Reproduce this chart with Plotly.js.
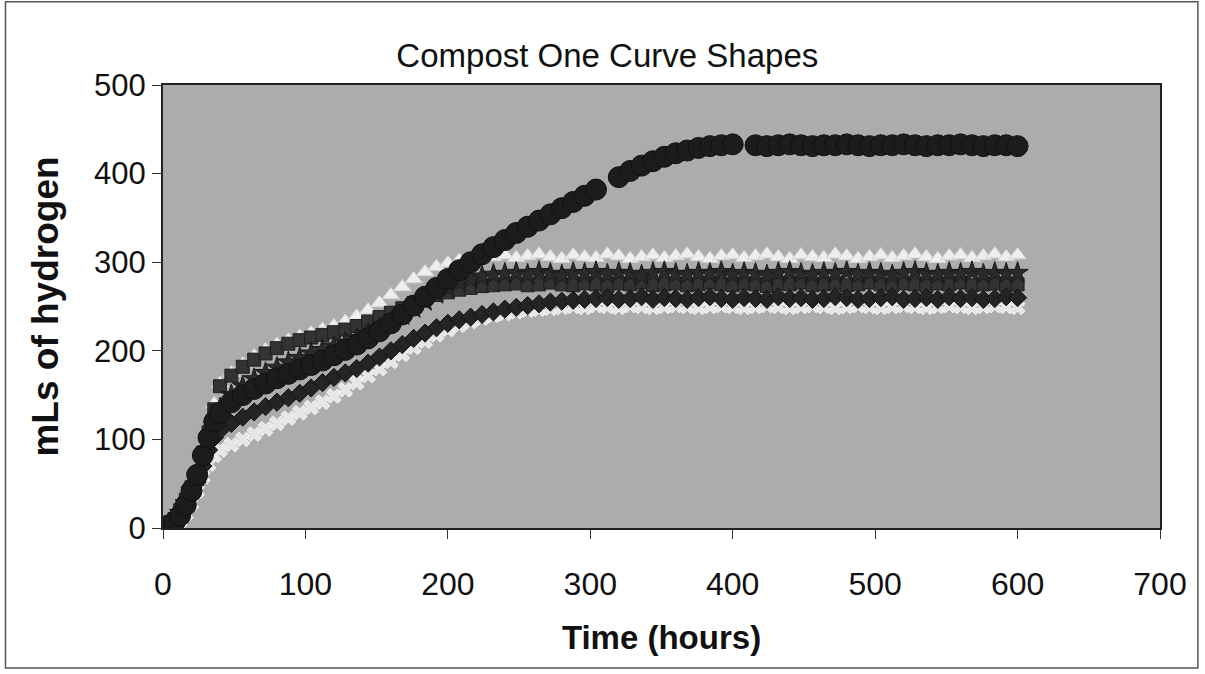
<!DOCTYPE html>
<html>
<head>
<meta charset="utf-8">
<script src="https://cdn.plot.ly/plotly-3.0.1.min.js"></script>
<style>
  html, body { margin: 0; padding: 0; background: #ffffff; }
  #chart { width: 1205px; height: 674px; }
</style>
</head>
<body>
<div id="chart"></div>
<script>
// Time (hours) shared by all series
const hours = [0,4,8,12,16,20,24,28,32,36,40,
  48,56,64,72,80,88,96,104,112,120,128,136,144,152,160,168,176,184,192,200,
  208,216,224,232,240,248,256,264,272,280,288,296,304,312,320,328,336,344,352,
  360,368,376,384,392,400,
  408,416,424,432,440,448,456,464,472,480,488,496,504,512,520,528,536,544,552,
  560,568,576,584,592,600];

// Light lower series (x markers)
const seriesD = [0,1,3,8,16,28,42,58,72,82,88,
  94,100,106,112,118,124,130,136,142,149,156,164,172,180,188,196,204,211,218,224,
  229,233,237,240,242,244,246,247,248,249,250,249,251,250,249,251,250,249,250,
  251,250,249,250,251,250,
  249,250,251,250,249,250,251,250,249,250,251,250,249,250,251,250,249,250,251,
  250,249,250,251,250,249];

// Light upper series (triangles)
const seriesC = [0,4,10,20,33,48,66,90,114,140,163,
  175,185,194,201,207,212,216,220,224,228,233,239,246,254,263,272,281,289,295,299,
  302,304,305,306,308,305,307,309,306,304,308,306,305,309,307,304,306,308,305,
  307,309,306,304,307,308,
  305,307,309,306,304,308,306,305,309,307,304,306,308,305,307,309,306,304,307,
  308,305,307,309,306,308];

// Dark squares series
const seriesB = [0,4,10,20,32,46,62,85,108,134,160,
  172,182,190,197,203,208,212,215,218,221,224,228,233,238,243,248,254,259,263,266,
  269,271,273,274,275,276,274,275,277,275,274,276,275,273,276,275,277,274,275,
  276,274,275,277,275,274,
  276,275,273,276,275,277,274,275,276,274,275,277,275,274,276,275,273,276,275,
  277,274,275,276,274,275];

// Dark stars series
const seriesE = [0,3,8,17,28,42,58,78,98,116,135,
  150,160,168,175,181,187,192,197,201,205,209,214,219,225,232,240,248,256,264,271,
  277,281,284,286,287,288,286,289,287,285,288,287,289,286,288,287,285,288,289,
  287,286,288,287,289,286,
  288,287,285,288,289,287,286,288,287,289,286,288,287,285,288,289,287,286,288,
  287,289,286,288,287,288];

// Dark diamonds series
const seriesA = [0,2,5,12,22,36,52,70,88,102,110,
  118,125,131,137,142,147,152,158,164,170,175,180,186,193,200,207,214,220,226,231,
  235,238,241,244,247,249,251,253,255,256,257,258,259,260,258,259,261,258,260,
  259,258,260,261,259,258,
  260,259,258,261,259,260,258,259,261,260,258,259,260,261,258,259,260,258,261,
  259,260,258,259,261,260];

// Large circles series (null = missing reading)
const seriesF = [0,3,6,14,26,42,60,82,102,120,130,
  142,150,157,163,169,174,179,184,189,195,201,207,214,222,231,241,251,261,271,281,
  291,300,309,317,325,333,340,347,354,361,368,375,382,null,396,403,409,414,419,
  423,426,429,431,432,433,
  null,432,431,432,433,432,431,432,432,433,432,431,432,432,433,432,431,432,432,
  433,432,431,432,432,431];

const xTicks = [0,100,200,300,400,500,600,700];
const yTicks = [0,100,200,300,400,500];

const seriesList = [
  {name: 'Series D', y: seriesD, symbol: 'x', size: 13, color: '#e6e6e6', line: '#f6f6f6'},
  {name: 'Series C', y: seriesC, symbol: 'triangle-up', size: 15, color: '#eeeeee', line: '#d4d4d4'},
  {name: 'Series B', y: seriesB, symbol: 'square', size: 13, color: '#333333', line: '#1e1e1e'},
  {name: 'Series E', y: seriesE, symbol: 'star', size: 16, color: '#2a2a2a', line: '#1a1a1a'},
  {name: 'Series A', y: seriesA, symbol: 'diamond', size: 14, color: '#242424', line: '#141414'},
  {name: 'Series F', y: seriesF, symbol: 'circle', size: 21, color: '#1c1c1c', line: '#111111'}
];

const traces = seriesList.map(s => ({
  type: 'scatter',
  mode: 'markers',
  name: s.name,
  x: hours,
  y: s.y,
  marker: {symbol: s.symbol, size: s.size, color: s.color, line: {color: s.line, width: 1}},
  hoverinfo: 'x+y'
}));

const sans = '"Liberation Sans", Arial, sans-serif';

const layout = {
  width: 1205,
  height: 674,
  margin: {l: 163, r: 45, t: 85, b: 146, pad: 0},
  paper_bgcolor: '#ffffff',
  plot_bgcolor: '#acacac',
  showlegend: false,
  title: {
    text: 'Compost One Curve Shapes',
    font: {family: sans, size: 33, color: '#111111'},
    x: 0.504, xref: 'container', xanchor: 'center',
    y: 0.918, yref: 'container', yanchor: 'middle'
  },
  xaxis: {
    range: [0, 700],
    tickvals: xTicks,
    ticktext: xTicks.map(String),
    ticks: 'outside', ticklen: 9, tickwidth: 1, tickcolor: '#333333',
    ticklabelstandoff: 18,
    showline: true, linecolor: '#222222', linewidth: 2, mirror: true,
    showgrid: false, zeroline: false,
    tickfont: {family: sans, size: 32, color: '#111111'},
    title: {text: '<b>Time (hours)</b>', font: {family: sans, size: 33, color: '#111111'}, standoff: 24}
  },
  yaxis: {
    range: [0, 500],
    tickvals: yTicks,
    ticktext: yTicks.map(String),
    ticks: 'outside', ticklen: 9, tickwidth: 1, tickcolor: '#333333',
    ticklabelstandoff: 0,
    showline: true, linecolor: '#222222', linewidth: 2, mirror: true,
    showgrid: false, zeroline: false,
    tickfont: {family: sans, size: 31, color: '#111111'},
    title: {text: '<b>mLs of hydrogen</b>', font: {family: sans, size: 37, color: '#111111'}, standoff: 24}
  },
  shapes: [{
    type: 'rect', xref: 'paper', yref: 'paper',
    x0: -0.158, x1: 1.038, y0: -0.316, y1: 1.188,
    line: {color: '#555555', width: 1.5}, fillcolor: 'rgba(0,0,0,0)', layer: 'below'
  }]
};

Plotly.newPlot('chart', traces, layout, {displayModeBar: false, staticPlot: true});
</script>
</body>
</html>
